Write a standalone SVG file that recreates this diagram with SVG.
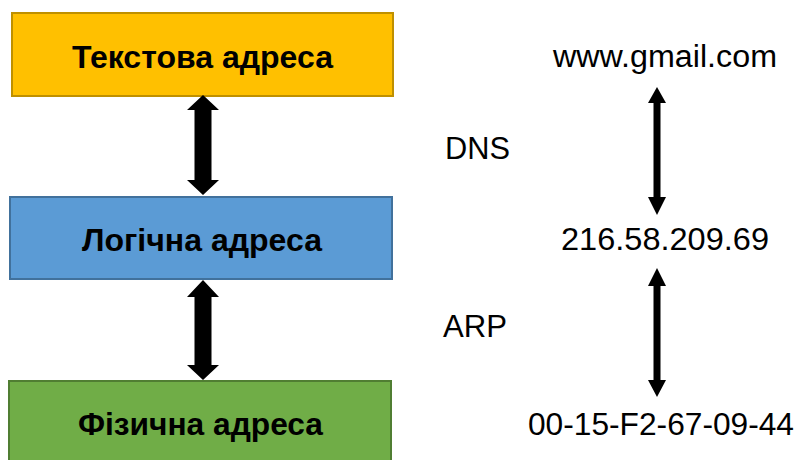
<svg xmlns="http://www.w3.org/2000/svg" width="798" height="460" viewBox="0 0 798 460">
<style>
.box{stroke-width:2}
.bt{font-family:"Liberation Sans",Arial,sans-serif;font-weight:bold;font-size:31px;fill:#000}
.rt{font-family:"Liberation Sans",Arial,sans-serif;font-size:31px;fill:#000}
.arr{fill:#000}
</style>
<rect width="798" height="460" fill="#fff"/>
<g id="node-text">
<rect class="box" x="12" y="13" width="381" height="83" fill="#FFC000" stroke="#BF9000"/>
<text class="bt" x="202.5" y="68" text-anchor="middle" textLength="261" lengthAdjust="spacingAndGlyphs">Текстова адреса</text>
</g>
<g id="node-logical">
<rect class="box" x="10" y="197" width="382" height="82" fill="#5B9BD5" stroke="#41719C"/>
<text class="bt" x="202" y="251" text-anchor="middle" textLength="240" lengthAdjust="spacingAndGlyphs">Логічна адреса</text>
</g>
<g id="node-physical">
<rect class="box" x="9" y="381" width="382" height="90" fill="#70AD47" stroke="#507E32"/>
<text class="bt" x="200.5" y="435" text-anchor="middle" textLength="245" lengthAdjust="spacingAndGlyphs">Фізична адреса</text>
</g>
<g id="label-domain"><text class="rt" x="665" y="67" text-anchor="middle" textLength="224" lengthAdjust="spacingAndGlyphs">www.gmail.com</text></g>
<g id="label-ip"><text class="rt" x="665" y="250" text-anchor="middle" textLength="208" lengthAdjust="spacingAndGlyphs">216.58.209.69</text></g>
<g id="label-mac"><text class="rt" x="661" y="435" text-anchor="middle" textLength="266" lengthAdjust="spacingAndGlyphs">00-15-F2-67-09-44</text></g>
<g id="label-dns"><text class="rt" x="445" y="159" textLength="65" lengthAdjust="spacingAndGlyphs">DNS</text></g>
<g id="label-arp"><text class="rt" x="443" y="337" textLength="64" lengthAdjust="spacingAndGlyphs">ARP</text></g>
<g id="connectors">
<polygon class="arr" points="203,95 219,110 211.5,110 211.5,180 219,180 203,195 187,180 194.5,180 194.5,110 187,110"/>
<polygon class="arr" points="203,280 219,297 211.5,297 211.5,365 219,365 203,380 187,365 194.5,365 194.5,297 187,297"/>
<polygon class="arr" points="657,87 666,103 660.5,103 660.5,197 666,197 657,215 648,197 653.5,197 653.5,103 648,103"/>
<polygon class="arr" points="657,268 666,286 660.5,286 660.5,380 666,380 657,397 648,380 653.5,380 653.5,286 648,286"/>
</g>
</svg>
